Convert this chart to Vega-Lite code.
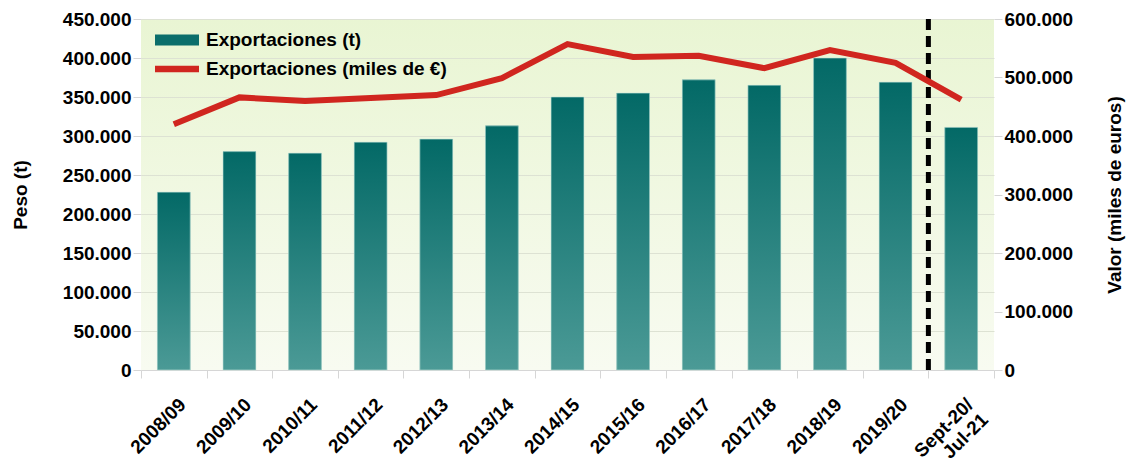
{
  "$schema": "https://vega.github.io/schema/vega-lite/v6.json",
  "width": 853,
  "height": 351,
  "autosize": {"type": "none"},
  "padding": {"left": 141, "top": 19, "right": 136, "bottom": 92},
  "background": "white",
  "config": {
    "locale": {"number": {"decimal": ",", "thousands": ".", "grouping": [3], "currency": ["", "€"]}},
    "font": "Liberation Sans",
    "view": {"stroke": null, "fill": {"gradient": "linear", "x1": 0, "y1": 0, "x2": 0, "y2": 1, "stops": [{"offset": 0, "color": "#e9f5d3"}, {"offset": 1, "color": "#f8fbf1"}]}},
    "axis": {
      "labelFont": "Liberation Sans", "labelFontWeight": "bold", "labelFontSize": 19, "labelColor": "#000",
      "titleFont": "Liberation Sans", "titleFontWeight": "bold", "titleFontSize": 19, "titleColor": "#000",
      "tickColor": "#d6d6d6", "domainColor": "#d6d6d6", "gridColor": "#dde2d3", "tickSize": 8, "labelOverlap": false
    },
    "legend": {
      "labelFont": "Liberation Sans", "labelFontWeight": "bold", "labelFontSize": 19, "labelColor": "#000"
    }
  },
  "data": {
    "values": [
      {"season": "2008/09", "t": 228000, "eur": 420000},
      {"season": "2009/10", "t": 280000, "eur": 466000},
      {"season": "2010/11", "t": 278000, "eur": 460000},
      {"season": "2011/12", "t": 292000, "eur": 465000},
      {"season": "2012/13", "t": 296000, "eur": 470000},
      {"season": "2013/14", "t": 313000, "eur": 499000},
      {"season": "2014/15", "t": 350000, "eur": 557000},
      {"season": "2015/16", "t": 355000, "eur": 535000},
      {"season": "2016/17", "t": 372000, "eur": 537000},
      {"season": "2017/18", "t": 365000, "eur": 516000},
      {"season": "2018/19", "t": 400000, "eur": 547000},
      {"season": "2019/20", "t": 369000, "eur": 525000},
      {"season": "Sept-20/Jul-21", "t": 311000, "eur": 462000}
    ]
  },
  "encoding": {
    "x": {
      "field": "season", "type": "nominal", "sort": null,
      "scale": {"paddingInner": 0, "paddingOuter": 0},
      "axis": {
        "title": null, "labelAngle": -45, "labelAlign": "right", "labelBaseline": "top",
        "tickBand": "extent", "labelOffset": 2, "labelPadding": 17,
        "labelExpr": "datum.value == 'Sept-20/Jul-21' ? ['Sept-20/', 'Jul-21'] : datum.value"
      }
    }
  },
  "layer": [
    {
      "encoding": {
        "y": {"field": "t", "type": "quantitative",
          "scale": {"domain": [0, 450000], "nice": false},
          "axis": {"orient": "left", "title": "Peso (t)", "format": ",d", "values": [0, 50000, 100000, 150000, 200000, 250000, 300000, 350000, 400000, 450000], "titlePadding": 32, "domain": false, "labelOverlap": false}}
      },
      "layer": [
        {
          "mark": {"type": "bar", "width": {"band": 0.5}},
          "encoding": {
            "color": {"datum": "Exportaciones (t)", "type": "nominal",
              "scale": {"domain": ["Exportaciones (t)", "Exportaciones (miles de €)"], "range": ["#0b6e6b", "#d0261f"]},
              "legend": {
                "title": null, "orient": "none", "legendX": 25, "legendY": 10, "direction": "vertical",
                "symbolType": "M-2,-0.5H2V0.5H-2Z", "symbolSize": 484, "symbolStrokeWidth": 0,
                "labelOffset": 18, "padding": 0, "rowPadding": 8, "labelLimit": 600,
                "encode": {"symbols": {"update": {
                  "shape": {"signal": "datum.value === 'Exportaciones (t)' ? 'M-2,-0.5H2V0.5H-2Z' : 'M-2,-0.3H2V0.3H-2Z'"},
                  "fill": {"signal": "datum.value === 'Exportaciones (t)' ? '#0e716e' : '#d0261f'"},
                  "stroke": {"value": "transparent"},
                  "strokeWidth": {"value": 0},
                  "opacity": {"value": 1},
                  "fillOpacity": {"value": 1}
                }}}
              }}
          }
        },
        {
          "mark": {"type": "bar", "width": {"band": 0.5},
            "fill": {"gradient": "linear", "x1": 0, "y1": 0, "x2": 0, "y2": 1, "stops": [{"offset": 0, "color": "#036966"}, {"offset": 1, "color": "#4b9a96"}]},
            "stroke": "#bfe0d8", "strokeWidth": 0.6},
          "encoding": {}
        }
      ]
    },
    {
      "transform": [{"filter": "datum.season == 'Sept-20/Jul-21'"}],
      "mark": {"type": "rule", "color": "#000", "strokeWidth": 5, "strokeDash": [11, 6]},
      "encoding": {
        "x": {"field": "season", "type": "nominal", "bandPosition": 0}
      }
    },
    {
      "mark": {"type": "line", "strokeWidth": 6, "strokeJoin": "miter"},
      "encoding": {
        "y": {"field": "eur", "type": "quantitative",
          "scale": {"domain": [0, 600000], "nice": false},
          "axis": {"orient": "right", "title": "Valor (miles de euros)", "format": ",d", "values": [0, 100000, 200000, 300000, 400000, 500000, 600000], "grid": false, "titleAngle": 270, "titlePadding": 52, "domain": false}},
        "color": {"datum": "Exportaciones (miles de €)", "type": "nominal"}
      }
    }
  ],
  "resolve": {"scale": {"y": "independent"}, "axis": {"y": "independent"}}
}
